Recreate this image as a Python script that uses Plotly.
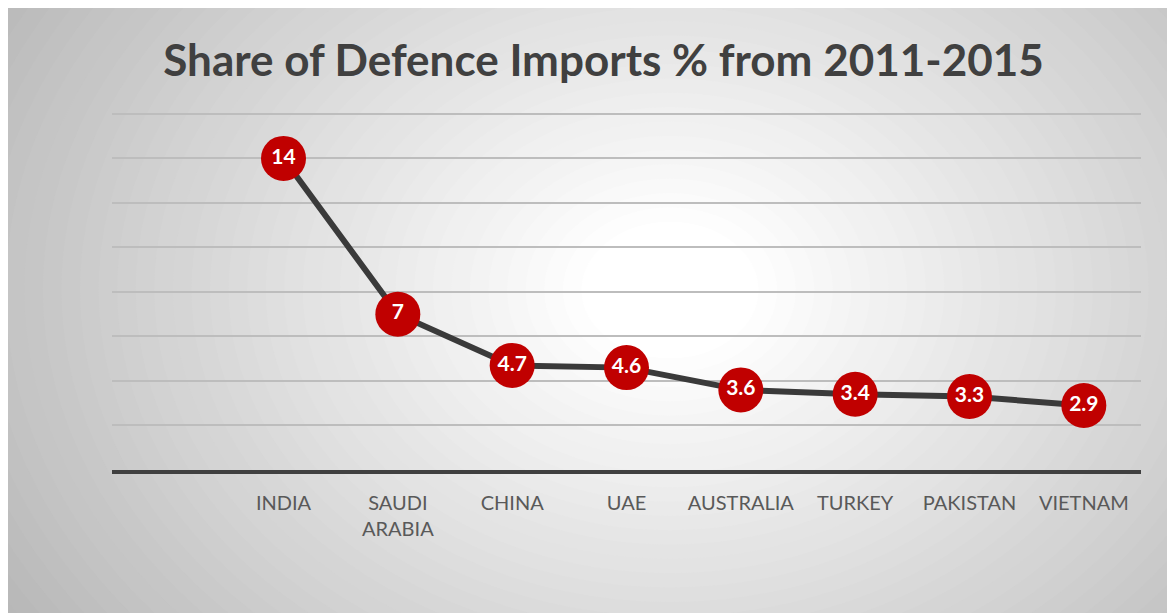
import plotly.graph_objects as go

countries = ["INDIA", "SAUDI<br>ARABIA", "CHINA", "UAE", "AUSTRALIA", "TURKEY", "PAKISTAN", "VIETNAM"]
shares = [14, 7, 4.7, 4.6, 3.6, 3.4, 3.3, 2.9]
labels = ["14", "7", "4.7", "4.6", "3.6", "3.4", "3.3", "2.9"]

W, H = 1175, 613
OFF = 8  # page body margin
YMAX = 16.4
unit = 356 / 16.0
L, R, B = 112 - OFF, 34 + OFF, 143 + OFF
T = int(round(114 - OFF - (YMAX - 16) * unit))
pw, ph = W - L - R, H - T - B

def px2paper(x, y):
    x -= OFF
    y -= OFF
    return (x - L) / pw, (H - B - y) / ph

shapes = []
cx, cy, A, Bb = 670, 290, 700, 540
N = 50
for i in range(N):
    r = 1.4 - i * (1.3 / (N - 1))
    t = (r - 0.12) / 0.88
    lvl = int(round(255 - t * 62))
    lvl = max(min(lvl, 255), 175)
    ax0, ay0 = px2paper(cx - A * r, cy - Bb * r)
    ax1, ay1 = px2paper(cx + A * r, cy + Bb * r)
    shapes.append(dict(type="circle", xref="paper", yref="paper", x0=ax0, x1=ax1, y0=ay1, y1=ay0,
                       fillcolor=f"rgb({lvl},{lvl},{lvl})", line=dict(width=0), layer="below"))

fig = go.Figure()
fig.add_trace(go.Scatter(
    x=countries, y=shares, mode="lines+markers+text",
    text=labels, textposition="middle center",
    textfont=dict(family="Lato", size=21, color="white", weight="bold"),
    line=dict(color="#3a3a3a", width=6),
    marker=dict(size=45, color="#C00000", line=dict(width=0)),
    cliponaxis=False, hoverinfo="skip"))

fig.update_layout(
    width=W, height=H,
    margin=dict(l=L, r=R, t=T, b=B),
    paper_bgcolor="#c4c4c4", plot_bgcolor="rgba(0,0,0,0)",
    showlegend=False,
    shapes=shapes,
    title=dict(text="<b>Share of Defence Imports % from 2011-2015</b>",
               x=(603.5 - OFF) / W, xanchor="center", y=1 - (61 - OFF) / H, yanchor="middle", yref="container",
               font=dict(family="Lato", size=44, color="#404040")),
    xaxis=dict(type="category", range=[-1.5, 7.5], showgrid=False, zeroline=False,
               showline=True, linecolor="#404040", linewidth=3.5,
               tickfont=dict(family="Lato", size=20, color="#595959"),
               ticks="", ticklabelstandoff=12, fixedrange=True),
    yaxis=dict(range=[0, YMAX], tickvals=[2, 4, 6, 8, 10, 12, 14, 16], showticklabels=False, showgrid=True,
               gridcolor="#bdbdbd", gridwidth=1.5, zeroline=False, showline=False, fixedrange=True),
)

fig.write_html("out.html")
